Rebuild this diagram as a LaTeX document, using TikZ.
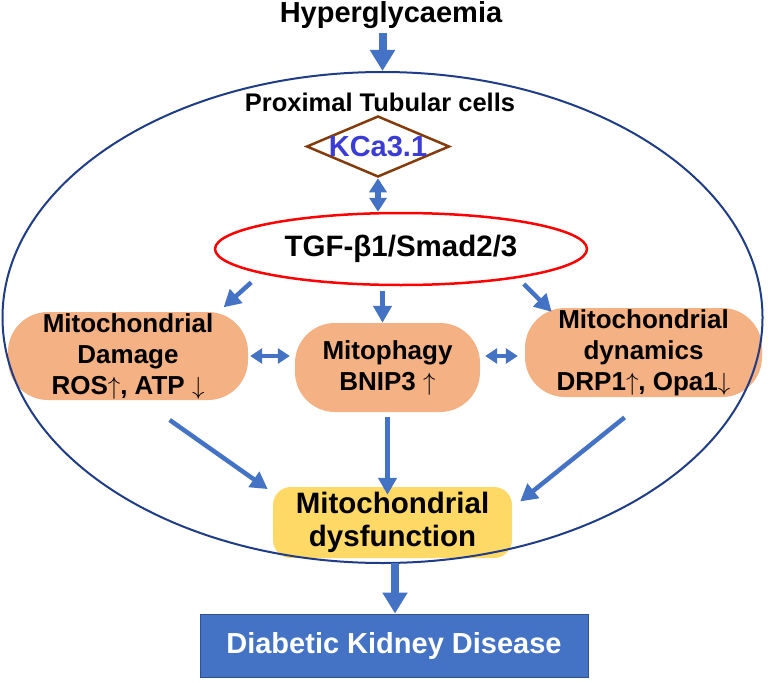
\documentclass[tikz,border=0pt]{standalone}
\usepackage{fontspec}
\setmainfont{Liberation Sans}
\usetikzlibrary{arrows.meta, shapes.geometric}
\definecolor{arrowblue}{HTML}{4472C4}
\definecolor{cellblue}{HTML}{1F3C88}
\definecolor{boxorange}{HTML}{F4B183}
\definecolor{boxyellow}{HTML}{FFD966}
\definecolor{kcabrown}{HTML}{843C0C}
\definecolor{kcatext}{HTML}{3B3BD6}
\definecolor{dkdedge}{HTML}{2F528F}
\newcommand{\FSIZE}[2]{\fontsize{#1}{#2}\selectfont\bfseries}
\tikzset{
	flow/.style={draw=arrowblue, line width=4.5pt, -{Triangle[width=18pt,length=17pt]}},
	bigflow/.style={draw=arrowblue, line width=8pt, -{Triangle[width=24pt,length=21pt]}},
	twoway/.style={draw=arrowblue, line width=4pt, {Triangle[width=15pt,length=12pt]}-{Triangle[width=15pt,length=12pt]}},
	thickway/.style={draw=arrowblue, line width=5.5pt, {Triangle[width=17pt,length=14pt]}-{Triangle[width=17pt,length=14pt]}},
	mitobox/.style={fill=boxorange, rounded corners=40pt, inner sep=0pt, align=center, font=\FSIZE{26}{31}},
}

\begin{document}
\begin{tikzpicture}[x=1pt, y=-1pt]
	\useasboundingbox (0,0) rectangle (770,682);

	\node[font=\FSIZE{29}{34}, anchor=base] (hyper) at (391,23) {Hyperglycaemia};
	\node[font=\FSIZE{25.5}{30}, anchor=base] (title) at (380,111) {Proximal Tubular cells};

	\node[diamond, draw=kcabrown, line width=2.5pt, minimum width=143pt, minimum height=61pt, inner sep=0pt] (kca) at (378,146.5) {};
	\node[font=\FSIZE{29}{34}, text=kcatext] (kcalabel) at (kca.center) {KCa3.1};

	\node[ellipse, draw=red, line width=2.5pt, minimum width=372pt, minimum height=72pt, font=\FSIZE{29.5}{34}] (tgf) at (401,249) {TGF-β1/Smad2/3};

	\node[mitobox, minimum width=240pt, minimum height=88pt] (dmg) at (128,356) {Mitochondrial\\Damage\\ROS$\uparrow$, ATP $\downarrow$};
	\node[mitobox, minimum width=185pt, minimum height=89pt] (mito) at (387.5,367.5) {Mitophagy\\BNIP3 $\uparrow$};
	\node[mitobox, minimum width=237pt, minimum height=89pt] (dyn) at (643.5,352.5) {Mitochondrial\\dynamics\\DRP1$\uparrow$, Opa1$\downarrow$};

	\node[fill=boxyellow, rounded corners=18pt, minimum width=239pt, minimum height=71pt, inner sep=0pt, align=center, font=\FSIZE{29.5}{33}] (dys) at (392.5,522.5) {Mitochondrial\\dysfunction};
	\node[fill=arrowblue, draw=dkdedge, line width=1pt, minimum width=388pt, minimum height=63pt, text=white, font=\FSIZE{29}{34}] (dkd) at (394,645.5) {Diabetic Kidney Disease};

	% cell outline goes over the boxes
	\node[ellipse, draw=cellblue, line width=2pt, minimum width=760pt, minimum height=491pt, inner sep=0pt] (cell) at (382.5,317.5) {};

	\draw[bigflow] (hyper.south -| cell.north) -- (cell.north);
	\draw[thickway] (kca.south) -- (kca.south |- tgf.north);

	\draw[flow, shorten <=13pt, shorten >=6.7pt] (tgf.190.6) -- (dmg.26.4);
	\draw[flow, shorten <=5pt] ([xshift=-5pt]mito.north |- tgf.south) -- ([xshift=-5pt]mito.north);
	\draw[flow, shorten <=8.5pt, shorten >=-5.7pt] (tgf.346.4) -- (dyn.155);

	\draw[twoway, shorten <=2pt, shorten >=5pt] (dmg.east) -- (dmg.east -| mito.west);
	\draw[twoway, shorten <=5pt, shorten >=7pt] (mito.east |- dmg.east) -- (dyn.west |- dmg.east);

	\draw[flow, shorten <=34.4pt, shorten >=6.2pt] (dmg.287.65) -- (dys.166.4);
	\draw[flow, shorten <=5pt, shorten >=-8pt] (mito.south) -- (mito.south |- dys.north);
	\draw[flow, shorten <=32.3pt, shorten >=10.2pt] (dyn.278.7) -- (dys.7.72);

	\draw[bigflow, shorten <=5pt] ([xshift=2.5pt]dys.south) -- ([xshift=2.5pt]dys.south |- dkd.north);
\end{tikzpicture}
\end{document}
